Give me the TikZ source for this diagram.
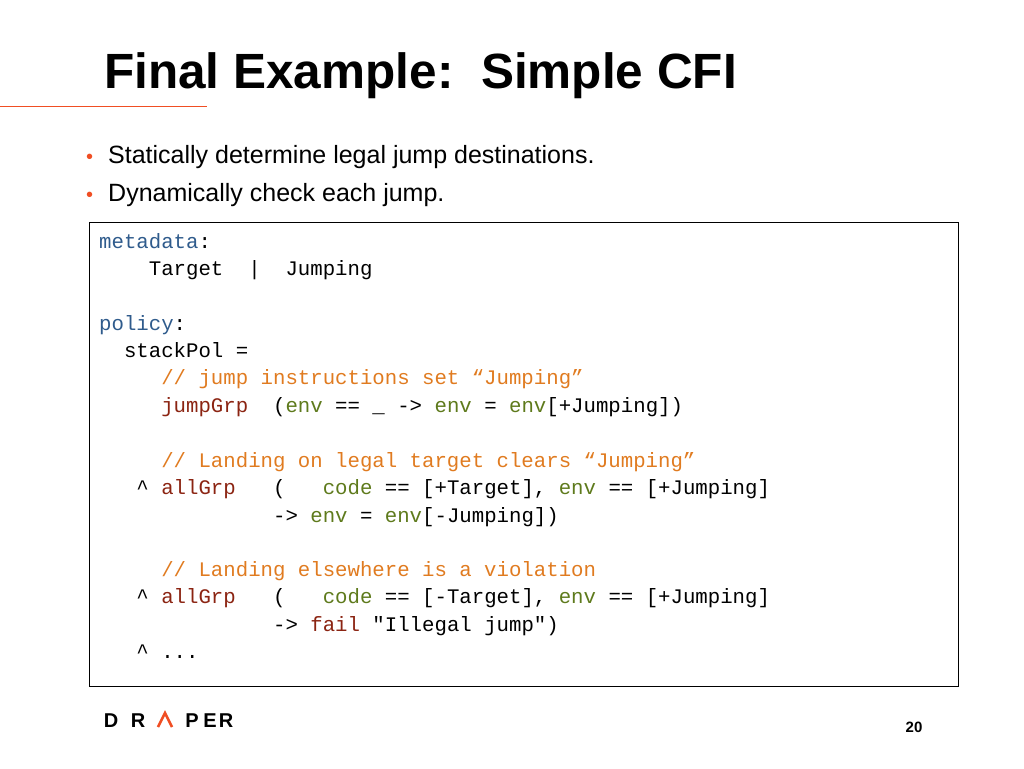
\documentclass[tikz,border=0pt]{standalone}
\usepackage{fontspec}
\setmainfont{Liberation Sans}
\newfontfamily\codefont{Liberation Mono}
\definecolor{kwblue}{HTML}{2F5B8C}
\definecolor{cmor}{HTML}{E07B20}
\definecolor{grpred}{HTML}{8B2412}
\definecolor{envgr}{HTML}{5E7A1C}
\definecolor{drorange}{HTML}{F04E23}
\newcommand{\Kb}[1]{\textcolor{kwblue}{#1}}
\newcommand{\Cm}[1]{\textcolor{cmor}{#1}}
\newcommand{\Gr}[1]{\textcolor{grpred}{#1}}
\newcommand{\Ev}[1]{\textcolor{envgr}{#1}}
\begin{document}
\begin{tikzpicture}[x=1pt,y=-1pt,
  codeline/.style={anchor=base west,inner sep=0pt,font=\codefont\fontsize{20.7}{24}\selectfont},
  bullet/.style={anchor=base west,inner sep=0pt,font=\fontsize{25}{29}\selectfont},
  logo/.style={anchor=base,inner sep=0pt,font=\bfseries\fontsize{20}{20}\selectfont}]
\useasboundingbox (0,0) rectangle (1024,768);
\node[anchor=base west,inner sep=0pt,font=\bfseries\fontsize{49.5}{52}\selectfont] (title) at (104,88) {Final Example:~~Simple CFI};
\draw[drorange,line width=1pt] (0,106) -- (207,106);
\node[anchor=base west,inner sep=0pt,text=drorange,font=\fontsize{20}{20}\selectfont] (b1) at (86,163) {•};
\node[bullet] (t1) at (108,163) {Statically determine legal jump destinations.};
\node[anchor=base west,inner sep=0pt,text=drorange,font=\fontsize{20}{20}\selectfont] (b2) at (86,201) {•};
\node[bullet] (t2) at (108,201) {Dynamically check each jump.};
\draw[line width=0.8pt] (89,222) rectangle (958,686);
\node[codeline] (l1) at (99,248) {\Kb{metadata}:};
\node[codeline] (l2) at (99,275) {~~~~Target~~|~~Jumping};
\node[codeline] (l4) at (99,330) {\Kb{policy}:};
\node[codeline] (l5) at (99,357) {~~stackPol~=};
\node[codeline] (l6) at (99,384) {~~~~~\Cm{//~jump~instructions~set~“Jumping”}};
\node[codeline] (l7) at (99,412) {~~~~~\Gr{jumpGrp}~~(\Ev{env}~==~\_~->~\Ev{env}~=~\Ev{env}[+Jumping])};
\node[codeline] (l9) at (99,467) {~~~~~\Cm{//~Landing~on~legal~target~clears~“Jumping”}};
\node[codeline] (l10) at (99,494) {~~~\^{}~\Gr{allGrp}~~~(~~~\Ev{code}~==~[+Target],~\Ev{env}~==~[+Jumping]};
\node[codeline] (l11) at (99,522) {~~~~~~~~~~~~~~->~\Ev{env}~=~\Ev{env}[-Jumping])};
\node[codeline] (l13) at (99,576) {~~~~~\Cm{//~Landing~elsewhere~is~a~violation}};
\node[codeline] (l14) at (99,603) {~~~\^{}~\Gr{allGrp}~~~(~~~\Ev{code}~==~[-Target],~\Ev{env}~==~[+Jumping]};
\node[codeline] (l15) at (99,631) {~~~~~~~~~~~~~~->~\Gr{fail}~"Illegal~jump")};
\node[codeline] (l16) at (99,658) {~~~\^{}~...};
\node[logo] (d) at (111,727) {D};
\node[logo] (r) at (138,727) {R};
\draw[drorange,line width=2.6pt,line join=miter] (158,727) -- (165,713) -- (172,727);
\node[logo] (p) at (192,727) {P};
\node[logo] (e) at (210,727) {E};
\node[logo] (r2) at (226,727) {R};
\node[anchor=base,inner sep=0pt,font=\bfseries\fontsize{15}{15}\selectfont] (pg) at (914,732) {20};
\end{tikzpicture}
\end{document}
